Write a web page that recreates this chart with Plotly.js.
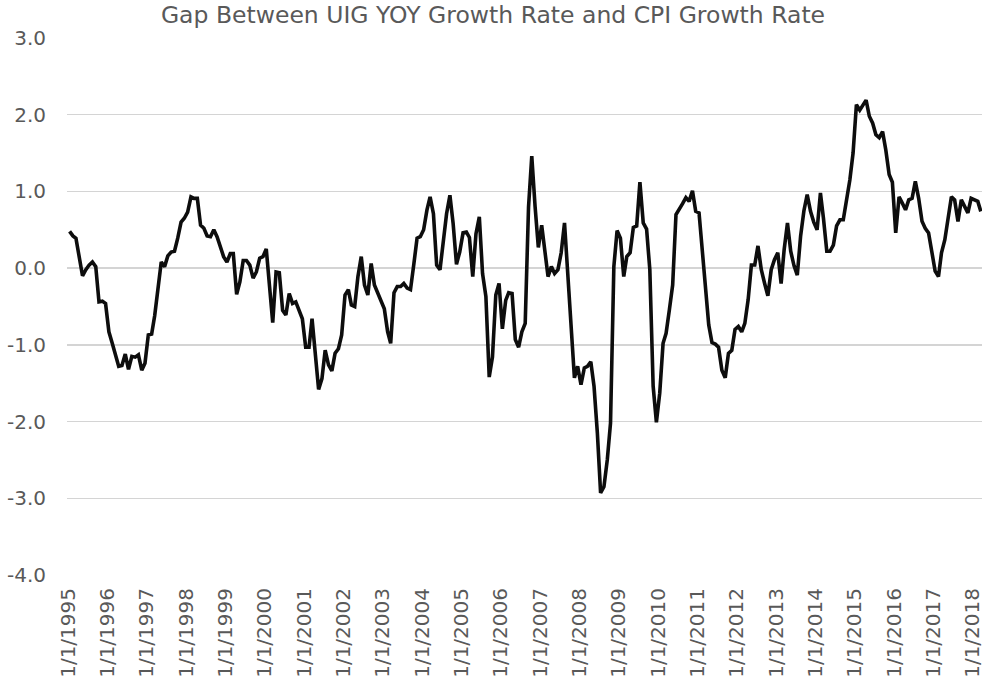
<!DOCTYPE html>
<html>
<head>
<meta charset="utf-8">
<script src="https://cdn.plot.ly/plotly-3.0.1.min.js"></script>
<style>
  html, body { margin: 0; padding: 0; background: #ffffff; }
  #chart { width: 986px; height: 685px; }
</style>
</head>
<body>
<div id="chart"></div>
<script>
// Monthly gap values (UIG YOY growth rate minus CPI growth rate)
const gap1995 = [0.48, 0.42, 0.39, 0.12, -0.10, -0.02, 0.04, 0.08, 0.02, -0.44, -0.43, -0.46];
const gap1996 = [-0.83, -0.98, -1.13, -1.28, -1.27, -1.12, -1.32, -1.15, -1.16, -1.13, -1.33, -1.24];
const gap1997 = [-0.87, -0.86, -0.62, -0.30, 0.08, 0.02, 0.16, 0.21, 0.22, 0.39, 0.60, 0.65];
const gap1998 = [0.73, 0.93, 0.91, 0.91, 0.56, 0.52, 0.42, 0.41, 0.50, 0.41, 0.27, 0.15];
const gap1999 = [0.08, 0.19, 0.19, -0.34, -0.18, 0.10, 0.10, 0.04, -0.13, -0.05, 0.13, 0.15];
const gap2000 = [0.25, -0.25, -0.71, -0.05, -0.06, -0.55, -0.61, -0.33, -0.46, -0.44, -0.54, -0.66];
const gap2001 = [-1.03, -1.03, -0.66, -1.09, -1.58, -1.44, -1.07, -1.26, -1.34, -1.11, -1.05, -0.87];
const gap2002 = [-0.35, -0.28, -0.48, -0.50, -0.11, 0.15, -0.22, -0.35, 0.06, -0.22, -0.33, -0.42];
const gap2003 = [-0.53, -0.83, -0.98, -0.32, -0.24, -0.24, -0.20, -0.26, -0.28, 0.04, 0.39, 0.41];
const gap2004 = [0.50, 0.76, 0.93, 0.71, 0.04, -0.02, 0.30, 0.71, 0.95, 0.58, 0.05, 0.21];
const gap2005 = [0.46, 0.47, 0.40, -0.11, 0.45, 0.67, -0.07, -0.37, -1.42, -1.16, -0.35, -0.20];
const gap2006 = [-0.79, -0.42, -0.32, -0.33, -0.93, -1.03, -0.83, -0.72, 0.80, 1.46, 0.80, 0.27];
const gap2007 = [0.56, 0.22, -0.11, 0.02, -0.07, -0.02, 0.20, 0.59, -0.10, -0.80, -1.43, -1.28];
const gap2008 = [-1.52, -1.30, -1.28, -1.22, -1.54, -2.15, -2.93, -2.85, -2.50, -2.02, 0.02, 0.49];
const gap2009 = [0.39, -0.11, 0.15, 0.20, 0.53, 0.55, 1.12, 0.59, 0.51, -0.02, -1.54, -2.01];
const gap2010 = [-1.63, -0.98, -0.85, -0.54, -0.22, 0.70, 0.76, 0.84, 0.92, 0.87, 1.01, 0.74];
const gap2011 = [0.72, 0.19, -0.27, -0.74, -0.97, -0.99, -1.03, -1.33, -1.43, -1.11, -1.07, -0.80];
const gap2012 = [-0.76, -0.83, -0.72, -0.41, 0.04, 0.04, 0.29, -0.02, -0.20, -0.36, -0.02, 0.11];
const gap2013 = [0.20, -0.20, 0.24, 0.59, 0.22, 0.03, -0.09, 0.42, 0.75, 0.96, 0.74, 0.60];
const gap2014 = [0.50, 0.98, 0.65, 0.22, 0.22, 0.30, 0.55, 0.63, 0.63, 0.88, 1.15, 1.50];
const gap2015 = [2.13, 2.06, 2.12, 2.19, 1.98, 1.89, 1.74, 1.70, 1.78, 1.54, 1.22, 1.12];
const gap2016 = [0.46, 0.93, 0.85, 0.76, 0.89, 0.91, 1.13, 0.91, 0.61, 0.52, 0.46, 0.22];
const gap2017 = [-0.04, -0.11, 0.20, 0.37, 0.65, 0.93, 0.89, 0.61, 0.89, 0.80, 0.72, 0.91];
const gap2018 = [0.89, 0.87, 0.74];

const dataYears = [1995, 1996, 1997, 1998, 1999, 2000, 2001, 2002, 2003, 2004, 2005, 2006,
                   2007, 2008, 2009, 2010, 2011, 2012, 2013, 2014, 2015, 2016, 2017, 2018];
const yearlyGaps = [gap1995, gap1996, gap1997, gap1998, gap1999, gap2000, gap2001, gap2002,
                    gap2003, gap2004, gap2005, gap2006, gap2007, gap2008, gap2009, gap2010,
                    gap2011, gap2012, gap2013, gap2014, gap2015, gap2016, gap2017, gap2018];

const xTickDates = ['1995-01-01','1996-01-01','1997-01-01','1998-01-01','1999-01-01','2000-01-01',
                    '2001-01-01','2002-01-01','2003-01-01','2004-01-01','2005-01-01','2006-01-01',
                    '2007-01-01','2008-01-01','2009-01-01','2010-01-01','2011-01-01','2012-01-01',
                    '2013-01-01','2014-01-01','2015-01-01','2016-01-01','2017-01-01','2018-01-01'];
const xTickLabels = ['1/1/1995','1/1/1996','1/1/1997','1/1/1998','1/1/1999','1/1/2000',
                     '1/1/2001','1/1/2002','1/1/2003','1/1/2004','1/1/2005','1/1/2006',
                     '1/1/2007','1/1/2008','1/1/2009','1/1/2010','1/1/2011','1/1/2012',
                     '1/1/2013','1/1/2014','1/1/2015','1/1/2016','1/1/2017','1/1/2018'];
const yTickVals = [3, 2, 1, 0, -1, -2, -3, -4];
const yTickLabels = ['3.0', '2.0', '1.0', '0.0', '-1.0', '-2.0', '-3.0', '-4.0'];

// Build the monthly date/value series
const dates = [];
const values = [];
dataYears.forEach(function (yr, i) {
  yearlyGaps[i].forEach(function (v, m) {
    const mm = String(m + 1).padStart(2, '0');
    dates.push(yr + '-' + mm + '-15');
    values.push(v);
  });
});

const textColor = '#595959';
const fontFamily = 'DejaVu Sans, Verdana, sans-serif';

const trace = {
  type: 'scatter',
  mode: 'lines',
  x: dates,
  y: values,
  line: { color: '#0d0d0d', width: 3.6 },
  hoverinfo: 'x+y'
};

const layout = {
  width: 986,
  height: 685,
  paper_bgcolor: '#ffffff',
  plot_bgcolor: '#ffffff',
  showlegend: false,
  margin: { l: 67, r: 4, t: 38, b: 110 },
  title: {
    text: 'Gap Between UIG YOY Growth Rate and CPI Growth Rate',
    font: { family: fontFamily, size: 23.5, color: textColor },
    x: 0.5,
    xref: 'container',
    xanchor: 'center',
    y: 1 - 15 / 685,
    yref: 'container',
    yanchor: 'middle'
  },
  xaxis: {
    type: 'date',
    range: ['1994-12-22', '2018-03-26'],
    tickmode: 'array',
    tickvals: xTickDates,
    ticktext: xTickLabels,
    tickangle: -90,
    ticks: '',
    showgrid: false,
    showline: false,
    zeroline: false,
    ticklabelstandoff: 8,
    tickfont: { family: fontFamily, size: 20, color: textColor }
  },
  yaxis: {
    range: [-4, 3],
    tickmode: 'array',
    tickvals: yTickVals,
    ticktext: yTickLabels,
    ticks: '',
    showgrid: true,
    gridcolor: '#d4d4d4',
    gridwidth: 1.5,
    zeroline: false,
    showline: false,
    ticklabelstandoff: 20,
    tickfont: { family: fontFamily, size: 20, color: textColor }
  }
};

Plotly.newPlot('chart', [trace], layout, { displayModeBar: false, staticPlot: true });
</script>
</body>
</html>
